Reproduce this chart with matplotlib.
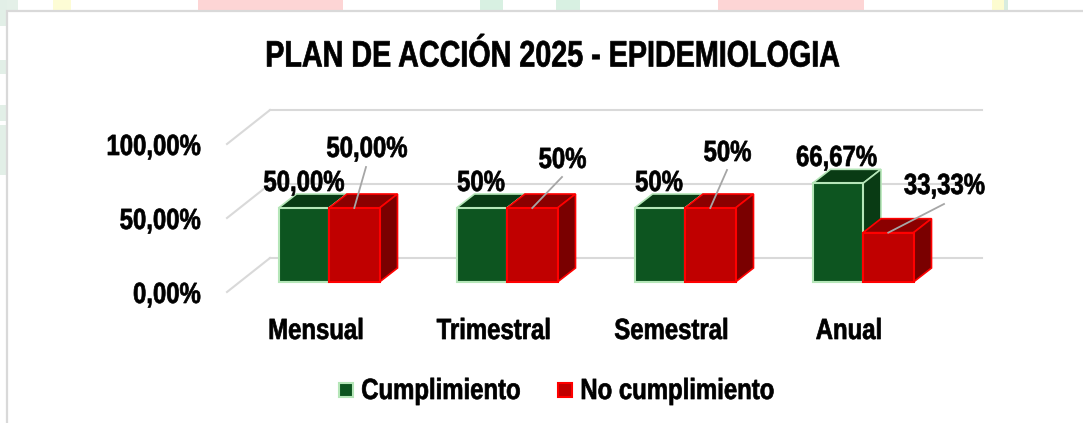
import matplotlib
matplotlib.use('Agg')
import matplotlib.pyplot as plt
from matplotlib.patches import Polygon, Rectangle
from matplotlib.patheffects import AbstractPathEffect
from matplotlib.transforms import Affine2D

# chart values
categories = ['Mensual', 'Trimestral', 'Semestral', 'Anual']
cumplimiento = [50.0, 50.0, 50.0, 66.67]
no_cumplimiento = [50.0, 50.0, 50.0, 33.33]
labels_si = ['50,00%', '50%', '50%', '66,67%']
labels_no = ['50,00%', '50%', '50%', '33,33%']
y_ticks = [0, 50, 100]
y_tick_labels = ['0,00%', '50,00%', '100,00%']

W, H = 1083, 423
PX_X = 178.0   # pixels per category
PX_Y = 1.48    # pixels per percent
X0, Y0 = 329, 282  # pixel of x=0, y=0


def px(x):
    return (x - X0) / PX_X


def py(y):
    return (Y0 - y) / PX_Y


# no narrow bold font is installed, so squeeze the glyphs sideways
class Squeeze(AbstractPathEffect):
    def __init__(self, ha, sx=0.82):
        super().__init__()
        self.ha = ha
        self.sx = sx

    def draw_path(self, renderer, gc, tpath, affine, rgbFace=None):
        box = tpath.get_extents(affine)
        a = {'left': box.x0, 'center': (box.x0 + box.x1) / 2, 'right': box.x1}[self.ha]
        squeezed = affine + Affine2D().translate(-a, 0).scale(self.sx, 1).translate(a, 0)
        gc.set_linewidth(0.5)  # reference text is a bit heavier
        renderer.draw_path(gc, tpath, squeezed, rgbFace)


def label(x, y, s, size=21, ha='center', z=20, sx=0.82):
    t = ax.text(px(x), py(y), s, ha=ha, va='baseline', fontsize=size, zorder=z)
    t.set_path_effects([Squeeze(ha, sx)])
    return t


plt.rcParams['font.family'] = ['Liberation Sans', 'DejaVu Sans']
plt.rcParams['font.weight'] = 'bold'

fig = plt.figure(figsize=(W / 100, H / 100), dpi=100)

# faint page background peeking out around the chart
for x, w, c in [(198, 145, '#fdd5d5'), (718, 146, '#fdd5d5'), (7, 11, '#e4f0e8'), (53, 18, '#fdfcd5'),
                (480, 23, '#d8f0e2'), (556, 24, '#d8f0e2'), (992, 12, '#fdfcd0'), (1004, 4, '#d8ecdf')]:
    fig.add_artist(Rectangle((x / W, 1 - 11 / H), w / W, 11 / H, fc=c, ec='none', zorder=0))
for y, h in [(0, 26), (60, 14), (105, 16), (125, 50)]:
    fig.add_artist(Rectangle((0, 1 - (y + h) / H), 7 / W, h / H, fc='#e2efe7', ec='none', zorder=0))
fig.add_artist(Rectangle((7 / W, -0.02), 1.1, 1 - 11 / H + 0.02, fc='white', ec='#d9d9d9', lw=1.6, zorder=0.5))

ax = fig.add_axes([0, 0, 1, 1], zorder=2)
ax.set_xlim(px(0), px(W))
ax.set_ylim(py(H), py(0))
ax.axis('off')

bar_w = 50.5 / PX_X
dx = 18 / PX_X
dy = 14 / PX_Y

# walls and floor gridlines
x_front = px(227)
x_back = px(270)
x_right = px(982)
front_dy = -10 / PX_Y
back_dy = 24 / PX_Y
for t, lab, base in zip(y_ticks, y_tick_labels, [303, 229, 155]):
    ax.plot([x_front, x_back], [t + front_dy, t + back_dy], color='#d9d9d9', lw=1.5, zorder=1)
    ax.plot([x_back, x_right], [t + back_dy, t + back_dy], color='#d9d9d9', lw=1.5, zorder=1)
    label(201, base, lab, ha='right')


def draw_bar(x0, val, front, top, side, edge, z):
    ax.add_patch(Polygon([(x0, val), (x0 + dx, val + dy), (x0 + bar_w + dx, val + dy), (x0 + bar_w, val)],
                         fc=top, ec=edge, lw=1.2, zorder=z))
    ax.add_patch(Polygon([(x0 + bar_w, 0), (x0 + bar_w + dx, dy), (x0 + bar_w + dx, val + dy), (x0 + bar_w, val)],
                         fc=side, ec=edge, lw=1.2, zorder=z))
    ax.bar(x0, val, bar_w, align='edge', color=front, edgecolor=edge, linewidth=1.5, zorder=z + 0.2)


for i in range(len(categories)):
    draw_bar(i - bar_w, cumplimiento[i], '#0d5520', '#093b14', '#093b14', '#b5e6b8', 3 + i * 2)
    draw_bar(i, no_cumplimiento[i], '#c00000', '#8b0000', '#7a0000', '#ff0000', 4 + i * 2)

# category labels
cat_px = [316, 494, 671.5, 849]
for cat, x in zip(categories, cat_px):
    label(x, 339, cat)

# value labels and leader lines
si_pos = [(304, 191), (481, 191), (659, 191), (836.5, 166)]
no_pos = [(367, 157), (562.5, 168), (727.5, 161), (944.5, 194)]
lead_top = [(366, 167), (562, 177), (727, 170), (944, 204)]
for i in range(4):
    label(si_pos[i][0], si_pos[i][1], labels_si[i])
    label(no_pos[i][0], no_pos[i][1], labels_no[i])
    ax.plot([px(lead_top[i][0]), i + bar_w / 2], [py(lead_top[i][1]), no_cumplimiento[i]],
            color='#a6a6a6', lw=1.3, zorder=20)

label(552, 66.5, 'PLAN DE ACCIÓN 2025 - EPIDEMIOLOGIA', size=26.5, sx=0.78)

# legend
ax.plot(px(346), py(390), marker='s', ls='', ms=9.5, mfc='#0d5520', mec='#b5e6b8', mew=1.5)
label(361, 399, 'Cumplimiento', size=21, ha='left')
ax.plot(px(565), py(390), marker='s', ls='', ms=9.5, mfc='#c00000', mec='#ff0000', mew=1.5)
label(580, 399, 'No cumplimiento', size=21, ha='left')

plt.savefig('out.png', dpi=100)
